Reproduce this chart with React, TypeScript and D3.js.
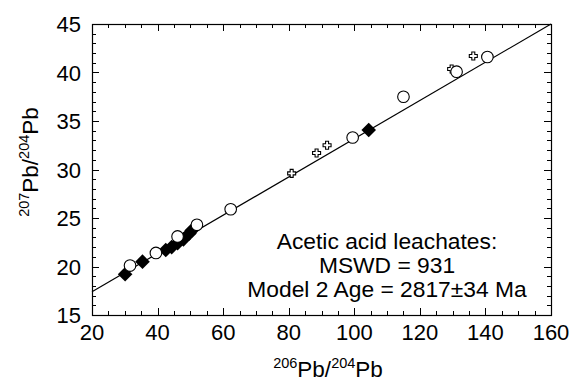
import React from "react";
import * as d3 from "d3";

const W = 571;
const H = 382;

// Data (206Pb/204Pb, 207Pb/204Pb)
const diamondX = [30.1, 35.4, 42.5, 44.3, 46.1, 47.9, 49.7, 50.4, 104.4];
const diamondY = [19.2, 20.5, 21.7, 22.0, 22.4, 22.8, 23.4, 23.7, 34.07];
const circleX = [31.6, 39.5, 46.1, 52.0, 62.3, 99.5, 115.0, 131.2, 140.6];
const circleY = [20.1, 21.4, 23.1, 24.3, 25.9, 33.3, 37.5, 40.08, 41.6];
const crossX = [80.9, 88.5, 91.7, 129.7, 136.3];
const crossY = [29.6, 31.7, 32.5, 40.36, 41.7];
const lineX = [20, 160];
const lineY = [17.4, 45.0];

const xMajor = [20, 40, 60, 80, 100, 120, 140, 160];
const yMajor = [15, 20, 25, 30, 35, 40, 45];
const xMinor = d3.range(20, 160.001, 5);
const yMinor = d3.range(15, 45.001, 1);

const annotation = [
  "Acetic acid leachates:",
  "MSWD = 931",
  "Model 2 Age = 2817±34 Ma",
];

const M = { left: 92, right: 551, top: 24, bottom: 315 };
const FONT = "'Liberation Sans', Arial, sans-serif";

export default function App() {
  const x = d3.scaleLinear().domain([20, 160]).range([M.left, M.right]);
  const y = d3.scaleLinear().domain([15, 45]).range([M.bottom, M.top]);

  const line = d3
    .line<number>()
    .x((d, i) => x(lineX[i]))
    .y((d, i) => y(lineY[i]));

  const diamond = (cx: number, cy: number, r: number) =>
    `M${cx},${cy - r}L${cx + r},${cy}L${cx},${cy + r}L${cx - r},${cy}Z`;
  const plus = (cx: number, cy: number, a: number, t: number) =>
    `M${cx - t},${cy - a}H${cx + t}V${cy - t}H${cx + a}V${cy + t}H${cx + t}V${cy + a}H${cx - t}V${cy + t}H${cx - a}V${cy - t}H${cx - t}Z`;

  const majorLen = 7;
  const minorLen = 4;

  return (
    <svg
      width={W}
      height={H}
      style={{ position: "absolute", left: 0, top: 0, background: "#fff" }}
      fontFamily={FONT}
    >
      <rect x={0} y={0} width={W} height={H} fill="#fff" />
      {/* ticks */}
      <g stroke="#000" strokeWidth={1}>
        {xMinor.map((v) => {
          const isMajor = xMajor.includes(v);
          const L = isMajor ? majorLen : minorLen;
          const px = Math.round(x(v)) + 0.5;
          return (
            <g key={"xt" + v}>
              <line x1={px} x2={px} y1={M.bottom} y2={M.bottom - L} />
              <line x1={px} x2={px} y1={M.top} y2={M.top + L} />
            </g>
          );
        })}
        {yMinor.map((v) => {
          const isMajor = yMajor.includes(v);
          const L = isMajor ? majorLen : minorLen;
          const py = Math.round(y(v)) + 0.5;
          return (
            <g key={"yt" + v}>
              <line x1={M.left} x2={M.left + L} y1={py} y2={py} />
              <line x1={M.right} x2={M.right - L} y1={py} y2={py} />
            </g>
          );
        })}
      </g>
      {/* regression line */}
      <path d={line(lineX) || ""} fill="none" stroke="#000" strokeWidth={1.2} />
      {/* frame */}
      <rect
        x={M.left + 0.5}
        y={M.top + 0.5}
        width={M.right - M.left}
        height={M.bottom - M.top}
        fill="none"
        stroke="#000"
        strokeWidth={1.2}
      />
      {/* crosses */}
      {crossX.map((v, i) => (
        <path
          key={"c" + i}
          d={plus(x(v), y(crossY[i]), 4, 1.5)}
          fill="#fff"
          stroke="#000"
          strokeWidth={1.1}
        />
      ))}
      {/* diamonds */}
      {diamondX.map((v, i) => (
        <path key={"d" + i} d={diamond(x(v), y(diamondY[i]), 7.3)} fill="#000" />
      ))}
      {/* circles */}
      {circleX.map((v, i) => (
        <circle
          key={"o" + i}
          cx={x(v)}
          cy={y(circleY[i])}
          r={5.8}
          fill="#fff"
          stroke="#000"
          strokeWidth={1.1}
        />
      ))}
      {/* tick labels */}
      <g fontSize={22} fill="#000">
        {xMajor.map((v) => (
          <text key={"xl" + v} x={x(v)} y={340} textAnchor="middle">
            {v}
          </text>
        ))}
        {yMajor.map((v) => (
          <text key={"yl" + v} x={81} y={y(v) + 8} textAnchor="end">
            {v}
          </text>
        ))}
      </g>
      {/* axis titles */}
      <text x={328} y={377} textAnchor="middle" fontSize={22.5} fill="#000">
        <tspan fontSize={14.5} dy={-9}>206</tspan>
        <tspan dy={9}>Pb/</tspan>
        <tspan fontSize={14.5} dy={-9}>204</tspan>
        <tspan dy={9}>Pb</tspan>
      </text>
      <text
        transform={`translate(38,162) rotate(-90)`}
        textAnchor="middle"
        fontSize={22.5}
        fill="#000"
      >
        <tspan fontSize={14.5} dy={-9}>207</tspan>
        <tspan dy={9}>Pb/</tspan>
        <tspan fontSize={14.5} dy={-9}>204</tspan>
        <tspan dy={9}>Pb</tspan>
      </text>
      {/* annotation */}
      <g fontSize={22.8} fill="#000" textAnchor="middle">
        {annotation.map((t, i) => (
          <text key={"a" + i} x={387} y={249 + i * 24}>
            {t}
          </text>
        ))}
      </g>
    </svg>
  );
}
